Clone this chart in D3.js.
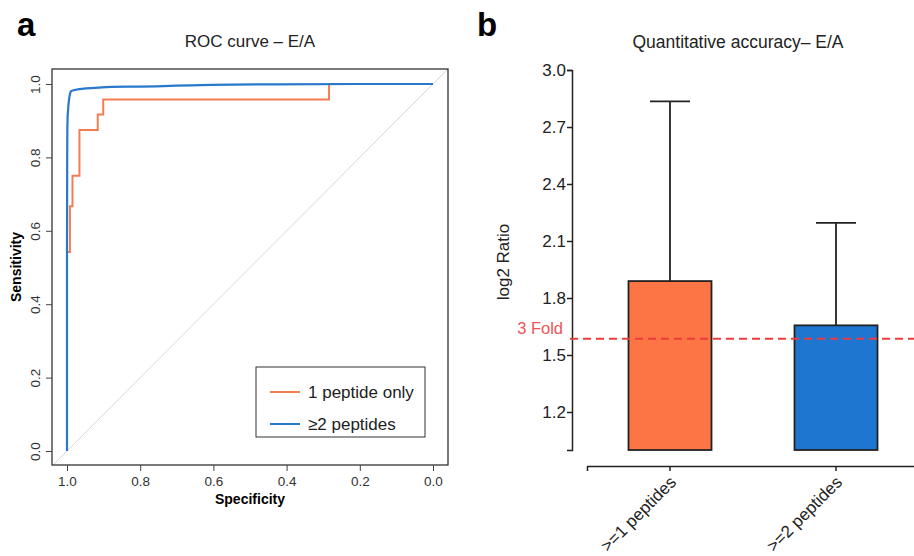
<!DOCTYPE html>
<html>
<head>
<meta charset="utf-8">
<script src="https://cdn.jsdelivr.net/npm/d3@7"></script>
<style>
  body { margin: 0; background: #fff; }
  svg { font-family: "Liberation Sans", Arial, Helvetica, sans-serif; }
</style>
</head>
<body>
<script>
// ROC curve data (specificity, sensitivity)
const rocSingleSpec = [1.0, 1.0, 0.992, 0.992, 0.985, 0.985, 0.966, 0.966, 0.916, 0.916, 0.901, 0.901, 0.284, 0.284, 0.0];
const rocSingleSens = [0.0, 0.542, 0.542, 0.667, 0.667, 0.75, 0.75, 0.875, 0.875, 0.917, 0.917, 0.958, 0.958, 1.0, 1.0];

const rocMultiSpec = [1.0, 1.0, 0.999, 0.996, 0.990, 0.966, 0.914, 0.878, 0.80, 0.637, 0.464, 0.20, 0.0];
const rocMultiSens = [0.0, 0.541, 0.884, 0.943, 0.979, 0.986, 0.990, 0.992, 0.993, 0.997, 0.999, 1.0, 1.0];

const rocSeries = ["1 peptide only", "\u22652 peptides"];
const rocColors = ["#f47c50", "#2878cc"];
const rocTicks = [0, 0.2, 0.4, 0.6, 0.8, 1.0];

// Quantitative accuracy bars
const groups = [">=1 peptides", ">=2 peptides"];
const barValues = [1.889, 1.656];
const errTops = [2.835, 2.195];
const barColors = ["#fd7544", "#1e76d0"];
const ratioTicks = [1.2, 1.5, 1.8, 2.1, 2.4, 2.7, 3.0];
const foldLine = Math.log2(3);

var svg = d3.select("body").append("svg")
    .attr("width", 914)
    .attr("height", 556);

// ---------- Panel a ----------
var a = {left: 52, right: 448, top: 69, bottom: 465};

var x = d3.scaleLinear().domain([1, 0]).range([67, 433]);
var y = d3.scaleLinear().domain([0, 1]).range([451, 84]);

svg.append("text").attr("x", 17).attr("y", 36)
    .attr("font-size", 33).attr("font-weight", "bold").text("a");

svg.append("text").attr("x", 250).attr("y", 47)
    .attr("text-anchor", "middle").attr("font-size", 17).attr("fill", "#222")
    .text("ROC curve \u2013 E/A");

svg.append("clipPath").attr("id", "clipRoc")
  .append("rect")
    .attr("x", a.left).attr("y", a.top)
    .attr("width", a.right - a.left).attr("height", a.bottom - a.top);

// diagonal reference line
svg.append("line")
    .attr("clip-path", "url(#clipRoc)")
    .attr("x1", x(1.1)).attr("y1", y(-0.1))
    .attr("x2", x(-0.1)).attr("y2", y(1.1))
    .attr("stroke", "#d8d8d8").attr("stroke-width", 1);

var rocLine = d3.line().x(d => x(d[0])).y(d => y(d[1]));

svg.append("path")
    .datum(rocSingleSpec.map((s, i) => [s, rocSingleSens[i]]))
    .attr("d", rocLine)
    .attr("fill", "none").attr("stroke", rocColors[0]).attr("stroke-width", 2);

svg.append("path")
    .datum(rocMultiSpec.map((s, i) => [s, rocMultiSens[i]]))
    .attr("d", rocLine.curve(d3.curveMonotoneY))
    .attr("fill", "none").attr("stroke", rocColors[1]).attr("stroke-width", 2.2);

// box
svg.append("rect")
    .attr("x", a.left).attr("y", a.top)
    .attr("width", a.right - a.left).attr("height", a.bottom - a.top)
    .attr("fill", "none").attr("stroke", "#333").attr("stroke-width", 1.3);

var xAxisA = svg.append("g")
    .attr("transform", `translate(0, ${a.bottom})`)
    .call(d3.axisBottom(x).tickValues(rocTicks).tickFormat(d3.format(".1f")).tickSize(6).tickPadding(5));
xAxisA.select(".domain").remove();
xAxisA.selectAll("text").attr("font-size", 13.5).attr("fill", "#333").attr("font-family", null);
xAxisA.selectAll("line").attr("stroke", "#444");

var yAxisA = svg.append("g")
    .attr("transform", `translate(${a.left}, 0)`)
    .call(d3.axisLeft(y).tickValues(rocTicks).tickFormat(d3.format(".1f")).tickSize(6));
yAxisA.select(".domain").remove();
yAxisA.selectAll("line").attr("stroke", "#444");
yAxisA.selectAll("text")
    .attr("font-size", 13.5).attr("fill", "#333").attr("font-family", null)
    .attr("text-anchor", "middle")
    .attr("x", 0).attr("dy", 0)
    .attr("transform", "translate(-12, 0) rotate(-90)")
    .attr("y", 0);

svg.append("text").attr("x", 250).attr("y", 504)
    .attr("text-anchor", "middle").attr("font-size", 14).attr("font-weight", "bold")
    .text("Specificity");

svg.append("text")
    .attr("transform", "translate(21, 267) rotate(-90)")
    .attr("text-anchor", "middle").attr("font-size", 14).attr("font-weight", "bold")
    .text("Sensitivity");

// legend
var legend = svg.append("g").attr("transform", "translate(256, 367)");
legend.append("rect").attr("width", 169).attr("height", 70)
    .attr("fill", "#fff").attr("stroke", "#333").attr("stroke-width", 1);
rocSeries.forEach((name, i) => {
  var row = legend.append("g").attr("transform", `translate(0, ${25 + i * 32})`);
  row.append("line").attr("x1", 14).attr("x2", 44)
      .attr("stroke", rocColors[i]).attr("stroke-width", 2);
  row.append("text").attr("x", 52).attr("y", 6)
      .attr("font-size", 17).attr("fill", "#222").text(name);
});

// ---------- Panel b ----------
var yb = d3.scaleLinear().domain([1.0, 3.0]).range([450, 70]);
var xb = d3.scaleBand().domain(groups).range([587, 919]).paddingInner(0.5).paddingOuter(0.25);

svg.append("text").attr("x", 477).attr("y", 36)
    .attr("font-size", 33).attr("font-weight", "bold").text("b");

svg.append("text").attr("x", 738).attr("y", 48)
    .attr("text-anchor", "middle").attr("font-size", 17.5).attr("fill", "#222")
    .text("Quantitative accuracy\u2013 E/A");

var yAxisB = svg.append("g")
    .attr("transform", "translate(572, 0)")
    .call(d3.axisLeft(yb).tickValues(ratioTicks).tickFormat(d3.format(".1f")).tickSizeOuter(0).tickSize(5).tickPadding(1));
yAxisB.select(".domain").attr("stroke", "#222").attr("stroke-width", 1.5);
yAxisB.selectAll("line").attr("stroke", "#222").attr("stroke-width", 1.5);
yAxisB.selectAll("text").attr("font-size", 17).attr("fill", "#222").attr("font-family", null);

svg.append("text")
    .attr("transform", "translate(509, 262) rotate(-90)")
    .attr("text-anchor", "middle").attr("font-size", 17).attr("fill", "#222")
    .text("log2 Ratio");

// error bars
svg.selectAll(".err").data(groups).enter().append("line")
    .attr("class", "err")
    .attr("x1", d => xb(d) + xb.bandwidth() / 2).attr("x2", d => xb(d) + xb.bandwidth() / 2)
    .attr("y1", (d, i) => yb(barValues[i])).attr("y2", (d, i) => yb(errTops[i]))
    .attr("stroke", "#222").attr("stroke-width", 1.8);
svg.selectAll(".cap").data(groups).enter().append("line")
    .attr("class", "cap")
    .attr("x1", d => xb(d) + xb.bandwidth() / 2 - 20).attr("x2", d => xb(d) + xb.bandwidth() / 2 + 20)
    .attr("y1", (d, i) => yb(errTops[i])).attr("y2", (d, i) => yb(errTops[i]))
    .attr("stroke", "#222").attr("stroke-width", 1.8);

// bars
svg.selectAll(".bar").data(groups).enter().append("rect")
    .attr("class", "bar")
    .attr("x", d => xb(d)).attr("width", xb.bandwidth())
    .attr("y", (d, i) => yb(barValues[i]))
    .attr("height", (d, i) => yb(1.0) - yb(barValues[i]))
    .attr("fill", (d, i) => barColors[i])
    .attr("stroke", "#222").attr("stroke-width", 1.8);

// 3 fold line
svg.append("line")
    .attr("x1", 570).attr("x2", 914)
    .attr("y1", yb(foldLine)).attr("y2", yb(foldLine))
    .attr("stroke", "#ee3b3b").attr("stroke-width", 2)
    .attr("stroke-dasharray", "8,5");
svg.append("text").attr("x", 563).attr("y", yb(foldLine) - 5)
    .attr("text-anchor", "end").attr("font-size", 16.5).attr("fill", "#ee5558")
    .text("3 Fold");

// x axis
var xAxisB = svg.append("g")
    .attr("transform", "translate(0, 466)")
    .call(d3.axisBottom(xb).tickSizeOuter(0).tickSize(5));
xAxisB.select(".domain").attr("stroke", "#222").attr("stroke-width", 1.5);
xAxisB.selectAll("line").attr("stroke", "#222").attr("stroke-width", 1.5);
xAxisB.selectAll("text")
    .attr("font-size", 17).attr("fill", "#222").attr("font-family", null)
    .attr("text-anchor", "end")
    .attr("dy", "0.35em").attr("y", 0)
    .attr("transform", "translate(3, 13) rotate(-45)");
</script>
</body>
</html>
